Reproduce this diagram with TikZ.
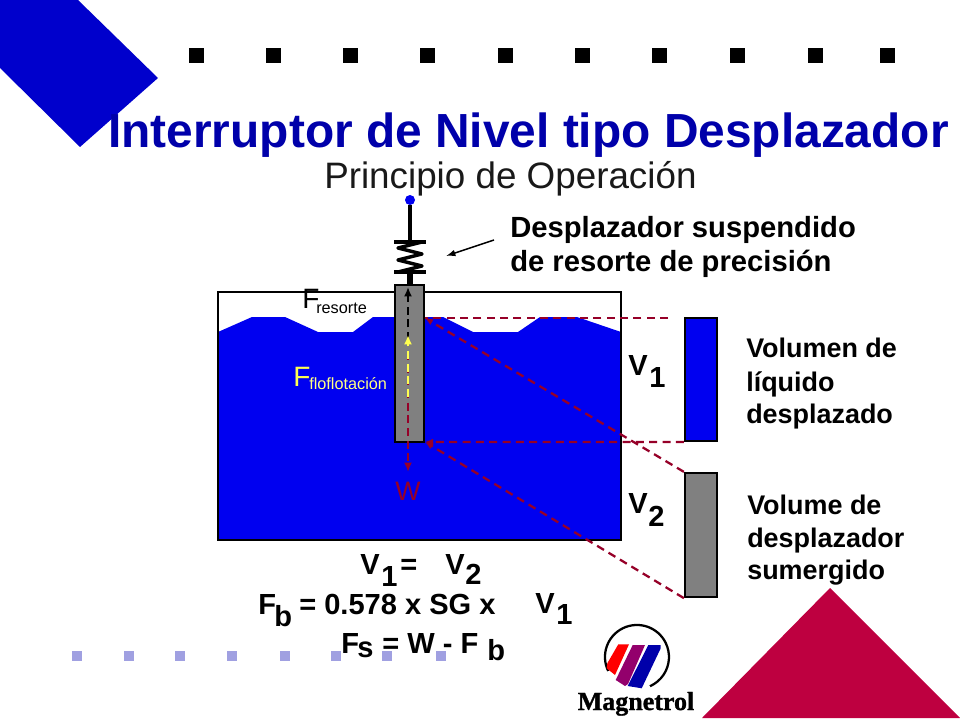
\documentclass[tikz,border=0pt]{standalone}
\usepackage{fontspec}
\setmainfont{Liberation Sans}
\newfontfamily\logofont{Liberation Serif Bold}[FakeBold=1.2]
\usepackage{xcolor}
\definecolor{liquid}{RGB}{0,0,240}
\definecolor{titleblue}{RGB}{0,0,170}
\definecolor{maroon}{RGB}{150,0,40}
\definecolor{crimson}{RGB}{190,0,64}
\definecolor{lavender}{RGB}{160,160,225}
\definecolor{steel}{RGB}{128,128,128}
\definecolor{flotyellow}{RGB}{255,255,80}
\usetikzlibrary{arrows.meta}
\begin{document}
\begin{tikzpicture}[x=0.75pt, y=-0.75pt,
  txt/.style = {inner sep=0pt, anchor=base west},
  big/.style = {txt, font=\bfseries\fontsize{21.9}{26}\selectfont},
  sym/.style = {txt, font=\bfseries\fontsize{21.8}{26}\selectfont},
  lab/.style = {txt, font=\bfseries\fontsize{20.2}{24}\selectfont},
  guide/.style = {maroon, line width=1.7pt, dash pattern=on 6pt off 4pt},
  force/.style = {line width=1.5pt, dash pattern=on 6pt off 3.5pt, -{Latex[length=7pt,width=6pt]}}]
\useasboundingbox (0,0) rectangle (960,720);

% decoration
\fill[liquid!85!black] (0,0) -- (78,0) -- (158,78) -- (80,147) -- (0,68) -- cycle;
\fill[crimson] (830,588) -- (960,718) -- (702,718) -- cycle;
\foreach \px in {196,273,350,427,505,582,659,737,815,887}
  \fill (\px-7.5,48.5) rectangle (\px+7.5,63.5);
\foreach \px in {77,129,180,232,285,336,387,441}
  \fill[lavender] (\px-5,651) rectangle (\px+5,661);

% titles
\node[txt, font=\bfseries\fontsize{35.9}{42}\selectfont, text=titleblue] (title) at (108,148) {Interruptor de Nivel tipo Desplazador};
\node[txt, font=\fontsize{27.6}{32}\selectfont, text=black!90] (subtitle) at (324,189) {Principio de Operación};

% tank
\fill[liquid] (218,332) -- (252,317) -- (285,317) -- (318,332) -- (353,332) -- (373,317) -- (443,317)
  -- (473,332) -- (518,332) -- (540,317) -- (577,317) -- (621,332) -- (621,540) -- (218,540) -- cycle;
\draw[line width=1.7pt] (218,292) rectangle (621,540);

% displacer and spring
\node[draw, line width=1.7pt, fill=steel, inner sep=0pt, minimum width=21.5pt, minimum height=117.5pt] (disp) at (409.5,363.5) {};
\node[fill=liquid, circle, inner sep=0pt, outer sep=0pt, minimum size=7.5pt] (knob) at (410,200) {};
\coordinate (top) at (410,242);
\coordinate (bot) at (410,272);
\draw[line width=3pt] (knob) -- (top);
\draw[line width=4.5pt] (bot) -- (disp.north -| bot);
\draw[line width=3.7pt] (394,242) -- (426,242);
\draw[line width=3.7pt] (394,272) -- (426,272);
\draw[line width=2.6pt, line join=round] (422,242) -- (398,248) -- (422,254) -- (398,260) -- (422,266) -- (398,272);

% side blocks
\node[draw, line width=1.7pt, fill=liquid, inner sep=0pt, minimum width=24pt, minimum height=92.2pt] (vone) at (701,379.5) {};
\node[draw, line width=1.7pt, fill=steel, inner sep=0pt, minimum width=24pt, minimum height=93pt] (vtwo) at (701,535) {};

% projection lines
\coordinate (surf) at (425,318);
\coordinate (base) at (425,442);
\coordinate (stop) at (668,318);
\draw[guide] (stop) -- (surf);
\draw[guide, -{Latex[length=6pt,width=5pt]}] (vtwo.north west) -- (surf);
\draw[guide, -{Latex[length=6pt,width=5pt]}] (vone.south west) -- (base);
\draw[guide, -{Latex[length=6pt,width=5pt]}] (vtwo.south west) -- (base);

% forces
\coordinate (fa) at (408,397);
\coordinate (fb) at (408,335);
\coordinate (fc) at (408,287);
\coordinate (fd) at (408,472);
\coordinate (fe) at (408,340);
\draw[force, black] (fe) -- (fc);
\draw[force, maroon] (408,352) -- (fd);
\draw[force, flotyellow] (fa) -- (fb);

% labels
\node[txt, font=\fontsize{21}{25}\selectfont] (fres) at (302,309) {F};
\node[txt, font=\fontsize{12.2}{14}\selectfont] (fressub) at (316,313) {resorte};
\node[txt, font=\fontsize{21}{25}\selectfont, text=flotyellow] (fflo) at (293,386) {F};
\node[txt, font=\fontsize{12.2}{14}\selectfont, text=flotyellow!70!white] (fflosub) at (309,389) {floflotación};
\node[txt, anchor=base, font=\fontsize{20}{24}\selectfont, text=maroon] (w) at (408,500) {W};

\node[big] (note1) at (510,238) {Desplazador suspendido};
\node[big] (note2) at (510,272) {de resorte de precisión};
\coordinate (noteend) at (494,240);
\draw[line width=1.1pt, -{Latex[length=7pt,width=5pt]}] (noteend) -- (446,256);

\node[sym] (v1) at (628,375) {V};
\node[sym] (v1n) at (649,387) {1};
\node[sym] (v2) at (628,513) {V};
\node[sym] (v2n) at (648,526) {2};

\node[lab] (a1) at (746,357) {Volumen de};
\node[lab] (a2) at (746,391) {líquido};
\node[lab] (a3) at (746,423) {desplazado};
\node[lab] (b1) at (747,514) {Volume de};
\node[lab] (b2) at (747,547) {desplazador};
\node[lab] (b3) at (747,579) {sumergido};

% formulas
\node[sym] (e1) at (360,574) {V};
\node[sym] (e2) at (381,586.5) {1};
\node[sym] (e3) at (400,574) {=};
\node[sym] (e4) at (445,574) {V};
\node[sym] (e5) at (465,584) {2};
\node[sym] (f1) at (258,614) {F};
\node[sym] (f2) at (274,626) {b};
\node[sym] (f3) at (299,614) {= 0.578 x SG x};
\node[sym] (f4) at (535,613) {V};
\node[sym] (f5) at (556,624.5) {1};
\node[sym] (g1) at (341,653) {F};
\node[sym] (g2) at (357,657) {s};
\node[sym] (g3) at (382,653) {= W - F};
\node[sym] (g4) at (487,660.5) {b};

% logo
\draw[line width=1.7pt] (608.2,671) arc[start angle=154, delta angle=272, radius=32];
\fill[red] (618.3,644.3) -- (629,644.3) -- (615,675) -- (606.7,668.3) -- (607.3,663.3) -- cycle;
\fill[violet!85!red] (632.7,645) -- (645,645) -- (628,684) -- (625,686) -- (615.7,680) -- cycle;
\fill[titleblue] (648.3,645) -- (660.7,645) -- (660.7,648.3) -- (641.7,688.3) -- (627.7,686) -- cycle;
\node[txt, anchor=base, font=\logofont\fontsize{19.5}{23}\selectfont] (logo) at (636,710) {Magnetrol};
\end{tikzpicture}
\end{document}
